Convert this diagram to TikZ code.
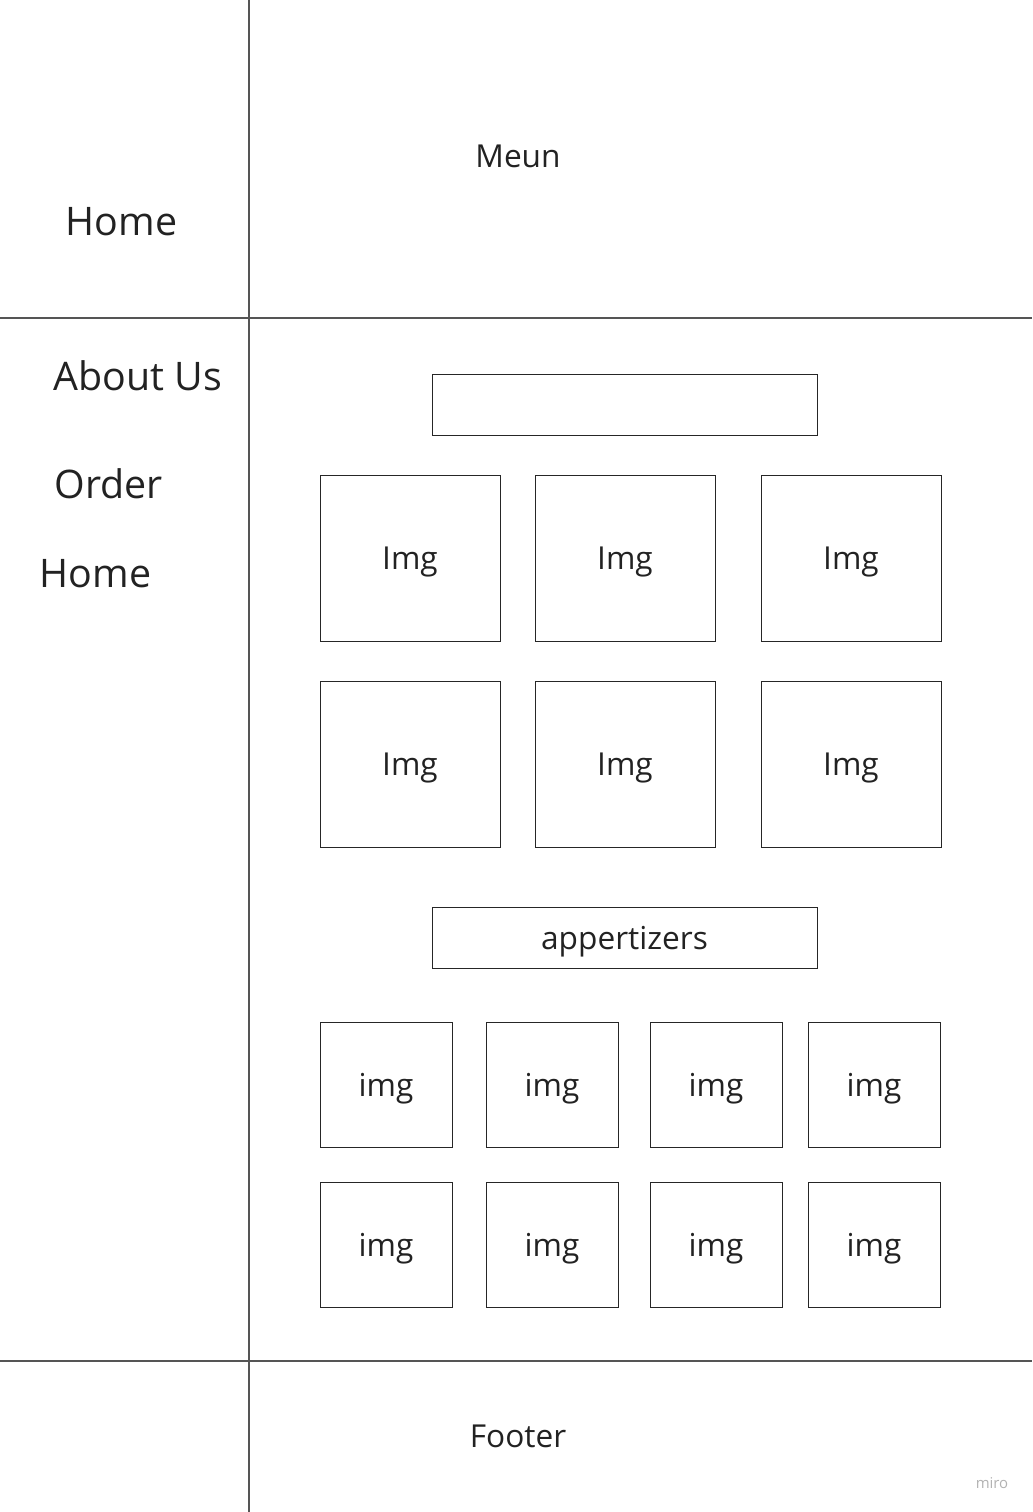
\documentclass[tikz,border=0pt]{standalone}
\usepackage{fontspec}
\setmainfont{Open Sans}
\usepackage{xcolor}
\usepackage{tikz}
\usetikzlibrary{positioning}
\definecolor{wireline}{HTML}{555555}
\definecolor{wiretext}{HTML}{222222}

\begin{document}
\begin{tikzpicture}[x=0.02cm,y=-0.02cm,every node/.style={text=wiretext},
  bigtext/.style={font=\fontsize{22.4}{26}\selectfont},
  smalltext/.style={font=\fontsize{18}{21}\selectfont},
  boxframe/.style={draw=black!85,line width=0.5pt,inner sep=0pt,text depth=0pt},
  bigbox/.style={boxframe,minimum width=3.6cm,minimum height=3.32cm},
  smallbox/.style={boxframe,minimum width=2.64cm,minimum height=2.5cm},
  barbox/.style={boxframe,minimum width=7.7cm,minimum height=1.22cm}]
  \useasboundingbox (0,0) rectangle (1032,1512);
  % page frame lines
  \coordinate (sidetop) at (249,0); \coordinate (sidebot) at (249,1512);
  \coordinate (headl) at (0,318); \coordinate (headr) at (1032,318);
  \coordinate (footl) at (0,1361); \coordinate (footr) at (1032,1361);
  \draw[wireline,line width=0.7pt] (sidetop)--(sidebot) (headl)--(headr) (footl)--(footr);
  % side links
  \node[bigtext] (home1) at (121.5,222) {Home};
  \node[bigtext] (about) at (138,376) {About Us};
  \node[bigtext] (order) at (108.5,484) {Order};
  \node[bigtext] (home2) at (95.5,574) {Home};
  \node[smalltext] (menu) at (518,156) {Meun};
  \node[smalltext] (footer) at (518,1436) {Footer};
  % content blocks
  \node[barbox] (titlebar) at (624.5,404.5) {};
  \foreach \c/\x in {1/410,2/625,3/851}
    \foreach \r/\y in {1/558,2/764}
      \node[bigbox,smalltext] (img-\r-\c) at (\x,\y) {Img};
  \node[barbox,smalltext] (apps) at (624.5,937.5) {appertizers};
  \foreach \c/\x in {1/386,2/552,3/716,4/874}
    \foreach \r/\y in {1/1084.5,2/1244.5}
      \node[smallbox,smalltext] (app-\r-\c) at (\x,\y) {img};
  \node[text=black!30,font=\fontsize{8.5}{10}\selectfont] (mark) at (992,1483) {miro};
\end{tikzpicture}
\end{document}
